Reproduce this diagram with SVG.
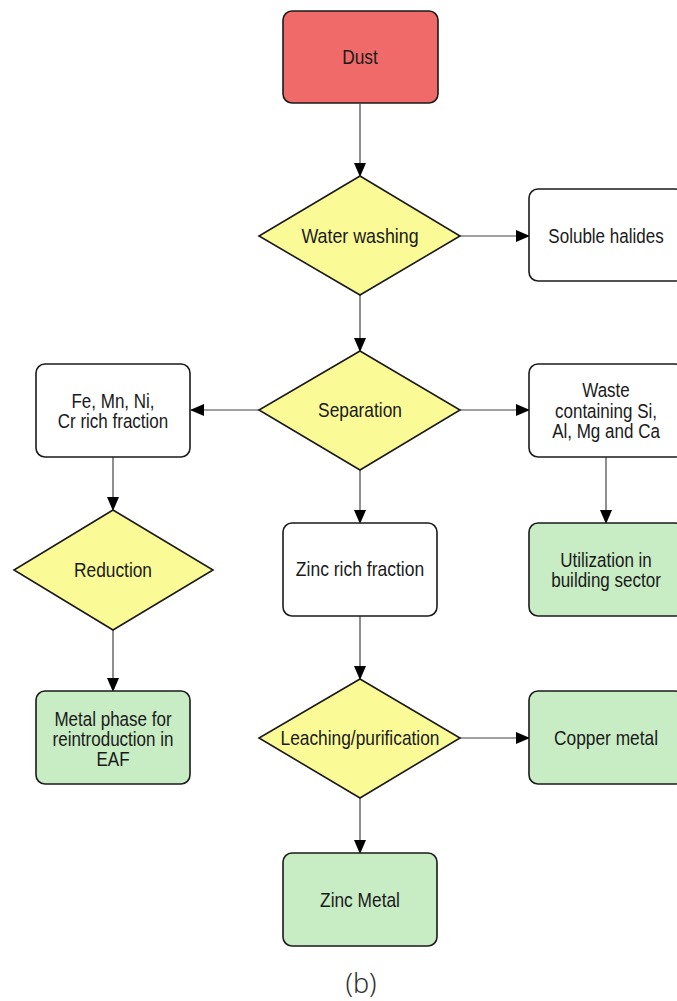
<svg xmlns="http://www.w3.org/2000/svg" width="677" height="1001" viewBox="0 0 677 1001">
<style>
.box{stroke:#1a1a1a;stroke-width:1.6}
.w{fill:#ffffff}.g{fill:#c8ecc4}.y{fill:#fafa96}.r{fill:#f06a6a}
text{font-family:"Liberation Sans",Arial,sans-serif;font-size:17px;fill:#1a1a1a;text-anchor:middle}
.c{stroke:#444;stroke-width:1.2;fill:none;marker-end:url(#ah)}
</style>
<defs>
<marker id="ah" markerWidth="14" markerHeight="12" refX="13" refY="6" orient="auto" markerUnits="userSpaceOnUse">
<path d="M0,0 L14,6 L0,12 Z" fill="#000"/>
</marker>
</defs>
<rect width="677" height="1001" fill="#fff"/>
<g id="connectors">
<line class="c" x1="360" y1="104" x2="360" y2="176"/>
<line class="c" x1="460" y1="236" x2="529" y2="236"/>
<line class="c" x1="360" y1="295" x2="360" y2="351"/>
<line class="c" x1="259" y1="410" x2="191" y2="410"/>
<line class="c" x1="460" y1="410" x2="529" y2="410"/>
<line class="c" x1="360" y1="470" x2="360" y2="523"/>
<line class="c" x1="113" y1="457" x2="113" y2="510"/>
<line class="c" x1="606" y1="457" x2="606" y2="523"/>
<line class="c" x1="113" y1="630" x2="113" y2="691"/>
<line class="c" x1="360" y1="616" x2="360" y2="679"/>
<line class="c" x1="460" y1="738" x2="529" y2="738"/>
<line class="c" x1="360" y1="798" x2="360" y2="853"/>
</g>
<g id="dust"><rect class="box r" x="283" y="11" width="155" height="92" rx="9"/><text transform="matrix(1.02,0,0,1.17,360,63.5)">Dust</text></g>
<g id="water-washing"><polygon class="box y" points="360,176 460,236 360,295 259,236"/><text transform="matrix(1.05,0,0,1.17,360,242.5)">Water washing</text></g>
<g id="soluble-halides"><rect class="box w" x="529" y="189" width="155" height="92" rx="9"/><text transform="matrix(1,0,0,1.17,606,242.5)">Soluble halides</text></g>
<g id="separation"><polygon class="box y" points="360,351 460,410 360,470 259,410"/><text transform="matrix(1.02,0,0,1.17,360,416.5)">Separation</text></g>
<g id="fe-fraction"><rect class="box w" x="36" y="364" width="154" height="93" rx="9"/><text transform="matrix(1,0,0,1.17,113,407.5)">Fe, Mn, Ni,</text><text transform="matrix(1,0,0,1.17,113,428)">Cr rich fraction</text></g>
<g id="waste"><rect class="box w" x="529" y="364" width="155" height="93" rx="9"/><text transform="matrix(1,0,0,1.17,606,397)">Waste</text><text transform="matrix(1,0,0,1.17,606,417.5)">containing Si,</text><text transform="matrix(1,0,0,1.17,606,438)">Al, Mg and Ca</text></g>
<g id="reduction"><polygon class="box y" points="113,510 213,570 113,630 14,570"/><text transform="matrix(1.02,0,0,1.17,113,576.5)">Reduction</text></g>
<g id="zinc-rich"><rect class="box w" x="283" y="523" width="154" height="93" rx="9"/><text transform="matrix(1.03,0,0,1.17,360,575.7)">Zinc rich fraction</text></g>
<g id="utilization"><rect class="box g" x="529" y="523" width="155" height="93" rx="9"/><text transform="matrix(1,0,0,1.17,606,566.7)">Utilization in</text><text transform="matrix(1,0,0,1.17,606,587)">building sector</text></g>
<g id="metal-phase"><rect class="box g" x="36" y="691" width="154" height="93" rx="9"/><text transform="matrix(1,0,0,1.17,113,726)">Metal phase for</text><text transform="matrix(1,0,0,1.17,113,746)">reintroduction in</text><text transform="matrix(1,0,0,1.17,113,766)">EAF</text></g>
<g id="leaching"><polygon class="box y" points="360,679 460,738 360,798 259,738"/><text transform="matrix(1.02,0,0,1.17,360,744.5)">Leaching/purification</text></g>
<g id="copper"><rect class="box g" x="529" y="691" width="155" height="93" rx="9"/><text transform="matrix(1.02,0,0,1.17,606,744.5)">Copper metal</text></g>
<g id="zinc-metal"><rect class="box g" x="283" y="853" width="154" height="93" rx="9"/><text transform="matrix(1.02,0,0,1.17,360,906.5)">Zinc Metal</text></g>
<text x="361" y="993" style="font-family:'Noto Sans','DejaVu Sans',sans-serif;font-size:27px;fill:#333;font-weight:300">(b)</text>
</svg>
